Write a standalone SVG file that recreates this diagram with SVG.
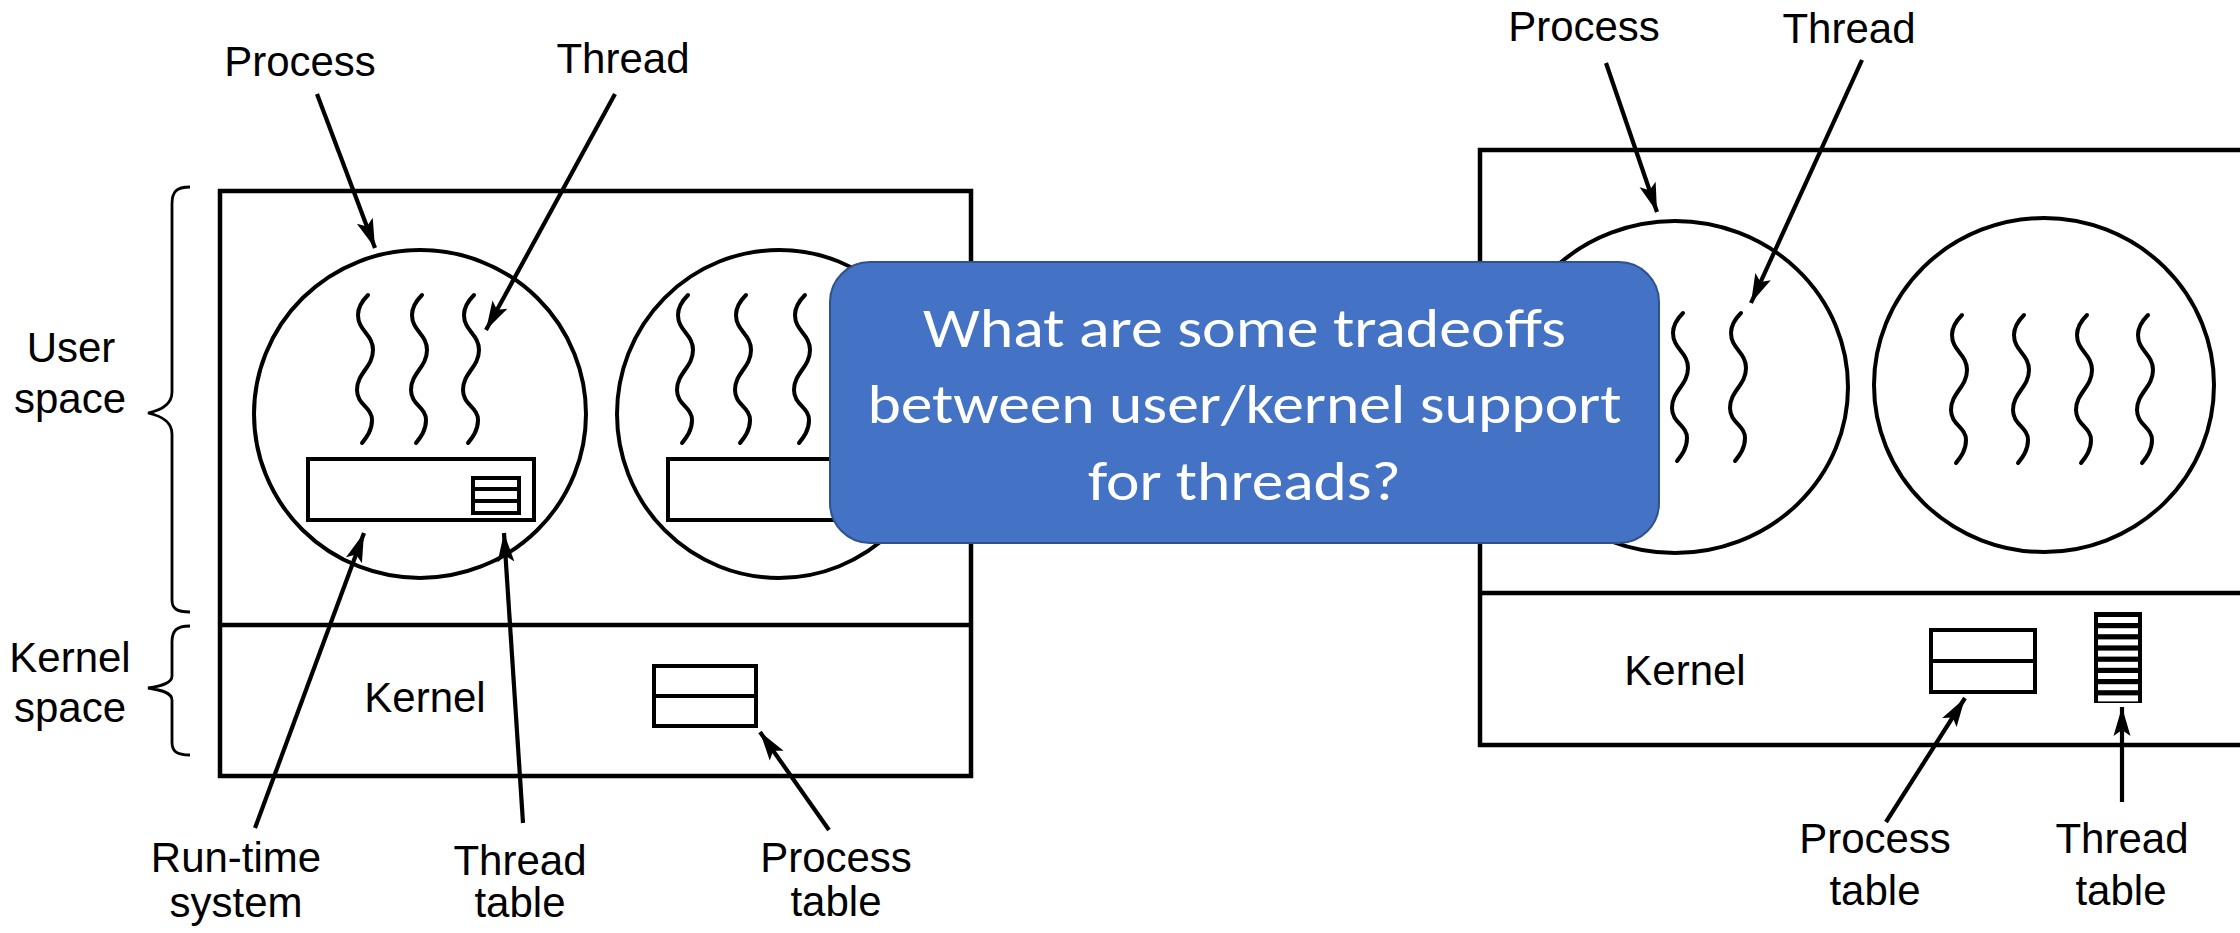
<svg xmlns="http://www.w3.org/2000/svg" width="2240" height="933" viewBox="0 0 2240 933">
  <style>
    .bg { fill: #ffffff; }
    .frame { fill: none; stroke: #000; stroke-width: 4.5; }
    .proc { fill: none; stroke: #000; stroke-width: 4; }
    .thr { fill: none; stroke: #000; stroke-width: 4; stroke-linecap: round; }
    .tbl { fill: #fff; stroke: #000; stroke-width: 4; }
    .brace { fill: none; stroke: #000; stroke-width: 2.8; }
    .lbl { font-family: "Liberation Sans", Arial, Helvetica, sans-serif; font-size: 42px; fill: #000; text-anchor: middle; }
    .arrow { fill: none; stroke: #000; stroke-width: 4.2; marker-end: url(#head); }
    .q-box { fill: #4472C4; stroke: #2F528F; stroke-width: 2; }
    .q-text { font-family: Carlito, Lato, "Open Sans", sans-serif; font-size: 56px; fill: #ffffff; text-anchor: middle; }
  </style>
  <defs>
    <marker id="head" viewBox="-30 -10 32 20" refX="0" refY="0" markerWidth="32" markerHeight="20" markerUnits="userSpaceOnUse" orient="auto">
      <path d="M0,0 L-29,-8.5 L-23,0 L-29,8.5 Z" fill="#000"/>
    </marker>
    <!-- one thread: a wavy vertical stroke, anchored at its top end -->
    <path id="squiggle" d="M0,0 C-6,6 -10,12 -10,20 C-10,36 5,39 5,55 C5,72 -11,78 -11,95 C-11,110 4,112 4,125 C4,136 -2,143 -6,148"/>
  </defs>

  <rect class="bg" x="0" y="0" width="2240" height="933"/>

  <!-- Left: threads managed in user space -->
  <g id="user-level">
    <g id="u-frame">
      <rect class="frame" x="220" y="191" width="751" height="585"/>
      <line class="frame" x1="220" y1="625" x2="971" y2="625"/>
    </g>
    <g id="u-braces">
      <path class="brace" d="M190,187 C176,187 172,192 172,204 L172,392 C172,404 162,410 148,413 C162,416 172,422 172,434 L172,600 C172,608 176,612 190,612"/>
      <path class="brace" d="M190,626 C176,626 172,631 172,642 L172,676 C172,683 162,686 148,688 C162,690 172,693 172,700 L172,742 C172,751 176,755 190,755"/>
      <text class="lbl" x="71" y="362">User</text>
      <text class="lbl" x="70" y="413">space</text>
      <text class="lbl" x="70" y="672">Kernel</text>
      <text class="lbl" x="70" y="722">space</text>
    </g>
    <g id="u-process-1">
      <ellipse class="proc" cx="420" cy="414" rx="166" ry="164"/>
      <use href="#squiggle" class="thr" x="368" y="295"/>
      <use href="#squiggle" class="thr" x="422" y="295"/>
      <use href="#squiggle" class="thr" x="474" y="295"/>
      <rect class="tbl" x="308" y="459" width="226" height="61"/>
      <rect class="tbl" x="473" y="478" width="46" height="35"/>
      <line class="proc" x1="473" y1="489" x2="519" y2="489"/>
      <line class="proc" x1="473" y1="501" x2="519" y2="501"/>
    </g>
    <g id="u-process-2">
      <ellipse class="proc" cx="779" cy="414" rx="162" ry="164"/>
      <use href="#squiggle" class="thr" x="688" y="295"/>
      <use href="#squiggle" class="thr" x="746" y="295"/>
      <use href="#squiggle" class="thr" x="805" y="295"/>
      <rect class="tbl" x="668" y="459" width="226" height="61"/>
    </g>
    <g id="u-kernel">
      <text class="lbl" x="425" y="712">Kernel</text>
      <rect class="tbl" x="654" y="666" width="102" height="60"/>
      <line class="proc" x1="654" y1="696" x2="756" y2="696"/>
    </g>
    <g id="u-labels">
      <text class="lbl" x="300" y="76">Process</text>
      <text class="lbl" x="623" y="73">Thread</text>
      <text class="lbl" x="236" y="872">Run-time</text>
      <text class="lbl" x="236" y="917">system</text>
      <text class="lbl" x="520" y="875">Thread</text>
      <text class="lbl" x="520" y="917">table</text>
      <text class="lbl" x="836" y="872">Process</text>
      <text class="lbl" x="836" y="916">table</text>
    </g>
  </g>

  <!-- Right: threads managed by the kernel -->
  <g id="kernel-level">
    <g id="k-frame">
      <path class="frame" d="M2260,150 L1480,150 L1480,745 L2260,745"/>
      <line class="frame" x1="1480" y1="593" x2="2260" y2="593"/>
    </g>
    <g id="k-process-1">
      <ellipse class="proc" cx="1675" cy="387" rx="173" ry="166"/>
      <use href="#squiggle" class="thr" x="1683" y="313"/>
      <use href="#squiggle" class="thr" x="1741" y="313"/>
    </g>
    <g id="k-process-2">
      <ellipse class="proc" cx="2044" cy="385" rx="170" ry="167"/>
      <use href="#squiggle" class="thr" x="1962" y="315"/>
      <use href="#squiggle" class="thr" x="2024" y="315"/>
      <use href="#squiggle" class="thr" x="2087" y="315"/>
      <use href="#squiggle" class="thr" x="2148" y="315"/>
    </g>
    <g id="k-kernel">
      <text class="lbl" x="1685" y="685">Kernel</text>
      <rect class="tbl" x="1931" y="630" width="104" height="62"/>
      <line class="proc" x1="1931" y1="661" x2="2035" y2="661"/>
      <rect x="2094" y="612" width="48" height="91" fill="#000"/>
      <g fill="#fff">
        <rect x="2098" y="617" width="40" height="6"/>
        <rect x="2098" y="628.2" width="40" height="6"/>
        <rect x="2098" y="639.4" width="40" height="6"/>
        <rect x="2098" y="650.6" width="40" height="6"/>
        <rect x="2098" y="661.8" width="40" height="6"/>
        <rect x="2098" y="673" width="40" height="6"/>
        <rect x="2098" y="684.2" width="40" height="6"/>
        <rect x="2098" y="695.4" width="40" height="6"/>
      </g>
    </g>
    <g id="k-labels">
      <text class="lbl" x="1584" y="41">Process</text>
      <text class="lbl" x="1849" y="43">Thread</text>
      <text class="lbl" x="1875" y="853">Process</text>
      <text class="lbl" x="1875" y="905">table</text>
      <text class="lbl" x="2122" y="853">Thread</text>
      <text class="lbl" x="2121" y="905">table</text>
    </g>
  </g>

  <g id="connectors">
    <line class="arrow" x1="317" y1="94" x2="375" y2="248"/>
    <line class="arrow" x1="615" y1="94" x2="486" y2="330"/>
    <line class="arrow" x1="255" y1="828" x2="364" y2="533"/>
    <line class="arrow" x1="523" y1="823" x2="504" y2="533"/>
    <line class="arrow" x1="829" y1="830" x2="760" y2="732"/>
    <line class="arrow" x1="1606" y1="63" x2="1657" y2="212"/>
    <line class="arrow" x1="1862" y1="60" x2="1751" y2="303"/>
    <line class="arrow" x1="1886" y1="822" x2="1965" y2="698"/>
    <line class="arrow" x1="2122" y1="802" x2="2122" y2="707"/>
  </g>

  <g id="question">
    <rect class="q-box" x="830" y="262" width="829" height="281" rx="40" ry="40"/>
    <text class="q-text" x="1244.5" y="347" textLength="643" lengthAdjust="spacingAndGlyphs">What are some tradeoffs</text>
    <text class="q-text" x="1244.5" y="423" textLength="754" lengthAdjust="spacingAndGlyphs">between user/kernel support</text>
    <text class="q-text" x="1244.5" y="500" textLength="313" lengthAdjust="spacingAndGlyphs">for threads?</text>
  </g>
</svg>
